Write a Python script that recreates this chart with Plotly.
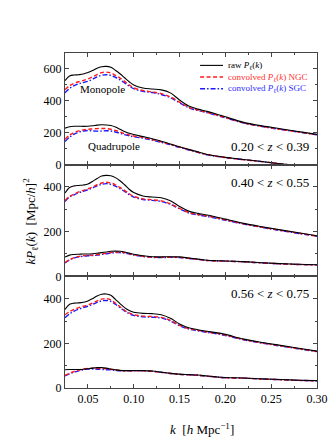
import plotly.graph_objects as go
from plotly.subplots import make_subplots

k = [0.025, 0.03, 0.035, 0.04, 0.045, 0.05, 0.055, 0.06, 0.065, 0.07, 0.075, 0.08, 0.085,
     0.09, 0.095, 0.10, 0.11, 0.12, 0.13, 0.14, 0.15, 0.16, 0.17, 0.18, 0.19, 0.20, 0.22,
     0.24, 0.26, 0.28, 0.30]

# Panel 1: 0.20 < z < 0.39
mono1_raw = [527, 556, 562, 564, 568, 578, 590, 605, 614, 616, 610, 592, 570, 545, 520, 500, 481, 474, 469, 450, 405, 368, 348, 334, 318, 300, 265, 243, 225, 207, 190]
mono1_ngc = [470, 495, 510, 520, 528, 537, 550, 565, 577, 580, 575, 560, 543, 522, 500, 482, 465, 456, 445, 425, 392, 360, 342, 328, 312, 296, 262, 240, 222, 205, 188]
mono1_sgc = [450, 478, 495, 507, 515, 523, 535, 550, 560, 564, 560, 548, 532, 513, 493, 476, 460, 452, 440, 420, 388, 357, 340, 326, 310, 294, 261, 239, 221, 204, 187]
quad1_raw = [229, 238, 241, 241, 240, 241, 244, 248, 250, 249, 245, 236, 222, 208, 197, 189, 176, 163, 147, 130, 112, 96, 80, 64, 54, 46, 32, 20, 6, -4, -15]
quad1_ngc = [160, 185, 202, 212, 218, 222, 224, 226, 227, 226, 222, 215, 205, 195, 187, 180, 170, 158, 143, 127, 110, 94, 78, 63, 53, 45, 31, 19, 5, -5, -16]
quad1_sgc = [145, 172, 192, 204, 211, 214, 212, 210, 211, 213, 211, 205, 197, 188, 181, 175, 166, 154, 140, 125, 108, 92, 77, 62, 52, 44, 31, 19, 5, -5, -16]

# Panel 2: 0.40 < z < 0.55
mono2_raw = [373, 398, 405, 407, 409, 413, 425, 438, 449, 452, 450, 442, 428, 410, 390, 375, 360, 355, 352, 338, 313, 292, 282, 275, 266, 256, 237, 222, 208, 195, 182]
mono2_ngc = [340, 358, 368, 378, 385, 392, 400, 410, 418, 421, 418, 410, 398, 385, 370, 358, 347, 343, 338, 325, 304, 286, 277, 270, 262, 253, 235, 220, 206, 193, 180]
mono2_sgc = [335, 355, 365, 374, 381, 388, 396, 405, 412, 415, 412, 404, 393, 380, 366, 355, 344, 340, 335, 322, 302, 284, 275, 268, 260, 251, 234, 219, 205, 192, 179]
quad2_raw = [86, 95, 98, 99, 100, 100, 101, 103, 106, 109, 112, 113, 112, 109, 104, 99, 92, 88, 87, 88, 87, 82, 77, 72, 70, 69, 66, 61, 57, 54, 52]
quad2_ngc = [62, 75, 84, 89, 92, 94, 95, 97, 100, 103, 106, 108, 108, 106, 102, 97, 90, 86, 85, 86, 85, 81, 76, 71, 69, 68, 65, 60, 56, 53, 51]
quad2_sgc = [60, 73, 82, 87, 90, 92, 93, 95, 98, 101, 104, 106, 106, 104, 100, 95, 89, 85, 84, 85, 84, 80, 76, 71, 69, 68, 65, 60, 56, 53, 51]

# Panel 3: 0.56 < z < 0.75
mono3_raw = [352, 375, 380, 381, 384, 390, 400, 412, 420, 421, 415, 397, 378, 360, 347, 339, 334, 333, 328, 312, 287, 270, 261, 254, 248, 240, 219, 204, 191, 178, 165]
mono3_ngc = [328, 342, 352, 360, 366, 372, 380, 390, 398, 400, 395, 380, 364, 348, 336, 328, 322, 320, 316, 303, 281, 266, 258, 251, 245, 237, 217, 202, 189, 176, 164]
mono3_sgc = [315, 332, 344, 353, 360, 366, 374, 383, 390, 392, 388, 375, 360, 345, 333, 325, 319, 317, 313, 300, 279, 264, 256, 249, 243, 235, 216, 201, 188, 175, 163]
quad3_raw = [82, 83, 83, 83, 84, 86, 89, 91, 91, 89, 85, 81, 79, 78, 78, 78, 78, 76, 71, 66, 62, 60, 58, 54, 50, 47, 45, 41, 38, 35, 33]
quad3_ngc = [57, 66, 74, 80, 85, 88, 89, 88, 87, 86, 84, 81, 79, 77, 77, 77, 77, 75, 70, 65, 61, 59, 57, 53, 49, 46, 44, 40, 37, 34, 32]
quad3_sgc = [54, 63, 71, 77, 82, 85, 85, 84, 83, 82, 81, 79, 77, 77, 77, 77, 77, 75, 70, 65, 61, 59, 57, 53, 49, 46, 44, 40, 37, 34, 32]

panels = [
    (mono1_raw, mono1_ngc, mono1_sgc, quad1_raw, quad1_ngc, quad1_sgc),
    (mono2_raw, mono2_ngc, mono2_sgc, quad2_raw, quad2_ngc, quad2_sgc),
    (mono3_raw, mono3_ngc, mono3_sgc, quad3_raw, quad3_ngc, quad3_sgc),
]
z_labels = ["0.20 &lt; <i>z</i> &lt; 0.39", "0.40 &lt; <i>z</i> &lt; 0.55", "0.56 &lt; <i>z</i> &lt; 0.75"]
y_ranges = [[0, 700], [0, 500], [0, 500]]
y_ticks = [[0, 200, 400, 600], [0, 200, 400], [0, 200, 400]]
x_ticks = [0.05, 0.10, 0.15, 0.20, 0.25, 0.30]
x_ticklabels = ["0.05", "0.10", "0.15", "0.20", "0.25", "0.30"]

FONT = "Liberation Serif, DejaVu Serif, Times New Roman, serif"
RED = "#ff1a1a"
BLUE = "#1a1aff"

fig = make_subplots(rows=3, cols=1, shared_xaxes=True, vertical_spacing=0)

for i, (mr, mn, ms, qr, qn, qs) in enumerate(panels):
    row = i + 1
    for y_raw, y_ngc, y_sgc in [(mr, mn, ms), (qr, qn, qs)]:
        fig.add_trace(go.Scatter(x=k, y=y_sgc, mode="lines", line=dict(color=BLUE, width=1.4, dash="5px,2px,1.5px,2px", shape="spline"), showlegend=False), row=row, col=1)
        fig.add_trace(go.Scatter(x=k, y=y_ngc, mode="lines", line=dict(color=RED, width=1.4, dash="4px,2.5px", shape="spline"), showlegend=False), row=row, col=1)
        fig.add_trace(go.Scatter(x=k, y=y_raw, mode="lines", line=dict(color="black", width=1.1, shape="spline"), showlegend=False), row=row, col=1)

axis_common = dict(showline=True, linecolor="#444", linewidth=1, mirror="ticks",
                   ticks="inside", tickcolor="#444", ticklen=4, tickwidth=1,
                   showgrid=False, zeroline=False,
                   tickfont=dict(family=FONT, size=12, color="black"))

for i in range(3):
    row = i + 1
    fig.update_xaxes(range=[0.025, 0.30], tickvals=x_ticks, ticktext=x_ticklabels,
                     minor=dict(ticks="inside", ticklen=2, dtick=0.025, tick0=0.025, tickcolor="#444"),
                     showticklabels=(row == 3), row=row, col=1, **axis_common)
    fig.update_yaxes(range=y_ranges[i], tickvals=y_ticks[i],
                     minor=dict(ticks="inside", ticklen=2, dtick=100, tickcolor="#444"),
                     row=row, col=1, **axis_common)

annotations = []
yref_names = ["y domain", "y2 domain", "y3 domain"]
xref_names = ["x domain", "x2 domain", "x3 domain"]
z_ypos = [0.16, 0.836, 0.85]
for i in range(3):
    annotations.append(dict(text=z_labels[i], x=0.975, y=z_ypos[i], xref=xref_names[i], yref=yref_names[i],
                            xanchor="right", yanchor="middle", showarrow=False,
                            font=dict(family=FONT, size=13, color="black")))

annotations.append(dict(text="Monopole", x=0.147, y=0.676, xref="x domain", yref="y domain",
                        xanchor="center", yanchor="middle", showarrow=False,
                        font=dict(family=FONT, size=11, color="black")))
annotations.append(dict(text="Quadrupole", x=0.194, y=0.171, xref="x domain", yref="y domain",
                        xanchor="center", yanchor="middle", showarrow=False,
                        font=dict(family=FONT, size=11, color="black")))

# manual legend in top panel
legend_items = [
    ("raw <i>P</i><sub>ℓ</sub>(<i>k</i>)", "black", "solid", 1.1, "black"),
    ("convolved <i>P</i><sub>ℓ</sub>(<i>k</i>) NGC", RED, "4px,2.5px", 1.4, "#ff3030"),
    ("convolved <i>P</i><sub>ℓ</sub>(<i>k</i>) SGC", BLUE, "5px,2px,1.5px,2px", 1.4, "#3030ff"),
]
legend_y = [0.889, 0.785, 0.68]
shapes = []
for (txt, col, dash, w, tcol), ly in zip(legend_items, legend_y):
    shapes.append(dict(type="line", xref="x domain", yref="y domain", x0=0.536, x1=0.627, y0=ly, y1=ly,
                       line=dict(color=col, width=w, dash=dash)))
    annotations.append(dict(text=txt, x=0.637, y=ly, xref="x domain", yref="y domain",
                            xanchor="left", yanchor="middle", showarrow=False,
                            font=dict(family=FONT, size=9, color=tcol)))

annotations.append(dict(text="<i>kP</i><sub>ℓ</sub>(<i>k</i>)  [Mpc/<i>h</i>]<sup>2</sup>",
                        x=-0.139, y=0.5, xref="paper", yref="paper", textangle=-90,
                        xanchor="center", yanchor="middle", showarrow=False,
                        font=dict(family=FONT, size=13, color="black")))
annotations.append(dict(text="<i>k</i>  [<i>h</i> Mpc<sup>−1</sup>]",
                        x=0.544, y=-0.122, xref="paper", yref="paper",
                        xanchor="center", yanchor="middle", showarrow=False,
                        font=dict(family=FONT, size=13, color="black")))

fig.update_layout(width=336, height=448, margin=dict(l=57, r=27, t=45, b=68),
                  paper_bgcolor="white", plot_bgcolor="white",
                  font=dict(family=FONT),
                  annotations=annotations, shapes=shapes, showlegend=False)

fig.write_html("out.html")
